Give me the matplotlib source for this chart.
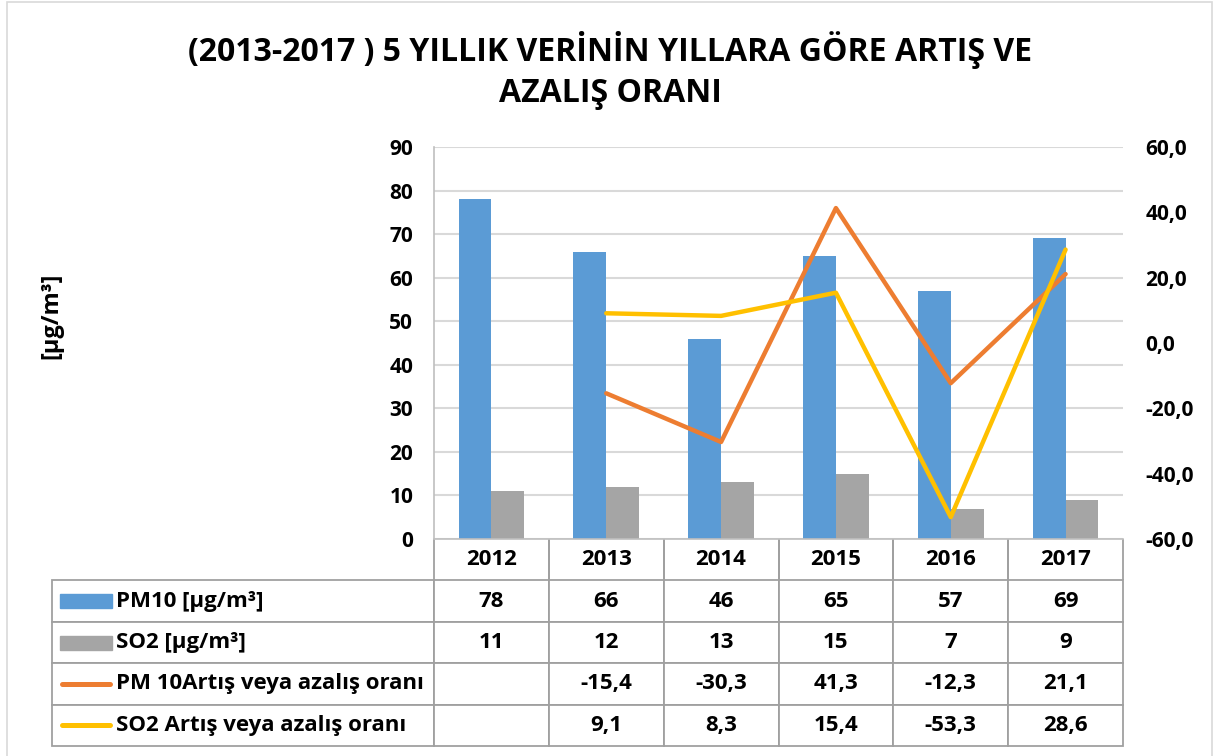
import numpy as np
import matplotlib
matplotlib.use('Agg')
import matplotlib.pyplot as plt
from matplotlib.patches import Rectangle
from matplotlib.lines import Line2D

plt.rcParams['font.family'] = ['Open Sans', 'DejaVu Sans']
plt.rcParams['font.weight'] = 'bold'

years = ['2012', '2013', '2014', '2015', '2016', '2017']
pm10 = [78, 66, 46, 65, 57, 69]
so2 = [11, 12, 13, 15, 7, 9]
pm10_rate = [np.nan, -15.4, -30.3, 41.3, -12.3, 21.1]
so2_rate = [np.nan, 9.1, 8.3, 15.4, -53.3, 28.6]
row_labels = ['PM10 [µg/m³]', 'SO2 [µg/m³]',
              'PM 10Artış veya azalış oranı', 'SO2 Artış veya azalış oranı']

c_pm10 = '#5B9BD5'
c_so2 = '#A5A5A5'
c_pm_rate = '#ED7D31'
c_so2_rate = '#FFC000'
grid_c = '#D9D9D9'
edge_c = '#A0A0A0'
fs_tbl = 16
fs_tick = 15

W, H = 1217, 756
fig = plt.figure(figsize=(W / 100, H / 100), dpi=100)

# chart frame
fig.patches.append(Rectangle((7 / W, -2 / H), 1205 / W, 756 / H, transform=fig.transFigure,
                             fill=False, edgecolor='#D9D9D9', linewidth=1.2))

ax_l, ax_r, ax_t, ax_b = 434, 1123, 147, 539
aw, ah = ax_r - ax_l, ax_b - ax_t
ax = fig.add_axes([ax_l / W, 1 - ax_b / H, aw / W, ah / H])
x = np.arange(len(years))
bw = 1 / 3.5
ax.bar(x - bw / 2, pm10, bw, color=c_pm10, zorder=2)
ax.bar(x + bw / 2, so2, bw, color=c_so2, zorder=2)
ax.set_xlim(-0.5, len(years) - 0.5)
ax.set_ylim(0, 90)
ax.set_yticks(np.arange(0, 91, 10))
ax.yaxis.grid(True, color=grid_c, linewidth=1.5, zorder=0)
ax.set_axisbelow(True)
for s in ['top', 'right']:
    ax.spines[s].set_visible(False)
ax.spines['left'].set_color('#BFBFBF')
ax.spines['bottom'].set_color('#BFBFBF')
ax.spines['left'].set_linewidth(1.2)
ax.spines['bottom'].set_linewidth(1.2)
ax.tick_params(axis='y', length=0, pad=15, labelsize=fs_tick)
ax.set_xticks([])
ax.set_ylabel('[µg/m³]', fontsize=17, fontweight='bold', labelpad=0)
ax.yaxis.set_label_coords((63 - ax_l) / aw, 0.57)

ax2 = ax.twinx()
ax2.plot(x, pm10_rate, color=c_pm_rate, linewidth=3.2, solid_capstyle='round', zorder=3)
ax2.plot(x, so2_rate, color=c_so2_rate, linewidth=3.2, solid_capstyle='round', zorder=3)
ax2.set_ylim(-60, 60)
ax2.set_yticks(np.arange(-60, 61, 20))
ax2.set_yticklabels([f'{v:.1f}'.replace('.', ',') for v in np.arange(-60, 61, 20)])
ax2.tick_params(axis='y', length=0, pad=16, labelsize=fs_tick)
for s in ax2.spines.values():
    s.set_visible(False)

# data table
def fmt(v):
    return '' if np.isnan(v) else f'{v:.1f}'.replace('.', ',')

cells = [[''] + years,
         [''] + [str(v) for v in pm10],
         [''] + [str(v) for v in so2],
         [''] + [fmt(v) for v in pm10_rate],
         [''] + [fmt(v) for v in so2_rate]]
tbl_left = (52 - ax_l) / aw
tbl_h = (746 - ax_b) / ah
tbl = ax.table(cellText=cells, bbox=[tbl_left, -tbl_h, 1 - tbl_left, tbl_h],
               cellLoc='center')
tbl.auto_set_font_size(False)
for (r, c), cell in tbl.get_celld().items():
    cell.set_edgecolor(edge_c)
    cell.set_linewidth(1.3)
    cell.set_width(ax_l - 52 if c == 0 else aw / len(years))
    cell.get_text().set_fontsize(fs_tbl)
    cell.get_text().set_fontweight('bold')
    if r == 0:
        cell.visible_edges = '' if c == 0 else 'LR'

# row labels with legend keys
row_h = tbl_h / 5
keys = [('bar', c_pm10), ('bar', c_so2), ('line', c_pm_rate), ('line', c_so2_rate)]
kx0 = (60 - ax_l) / aw
kx1 = (112 - ax_l) / aw
kh = 14 / ah
for i, (lab, (kind, col)) in enumerate(zip(row_labels, keys)):
    yc = -row_h * (i + 1.5)
    if kind == 'bar':
        ax.add_patch(Rectangle((kx0, yc - kh / 2), kx1 - kx0, kh,
                               transform=ax.transAxes, color=col, clip_on=False))
    else:
        ax.add_line(Line2D([kx0 + 0.003, kx1 - 0.003], [yc, yc], transform=ax.transAxes,
                           color=col, linewidth=3.6, solid_capstyle='round', clip_on=False))
    ax.text((116 - ax_l) / aw, yc, lab, transform=ax.transAxes, ha='left', va='center',
            fontsize=fs_tbl, fontweight='bold')

fig.text(610 / W, 1 - 50 / H, '(2013-2017 ) 5 YILLIK VERİNİN YILLARA GÖRE ARTIŞ VE',
         ha='center', va='center', fontsize=23, fontweight='bold')
fig.text(610 / W, 1 - 94 / H, 'AZALIŞ ORANI', ha='center', va='center',
         fontsize=23, fontweight='bold')

fig.savefig('out.png', dpi=100)
